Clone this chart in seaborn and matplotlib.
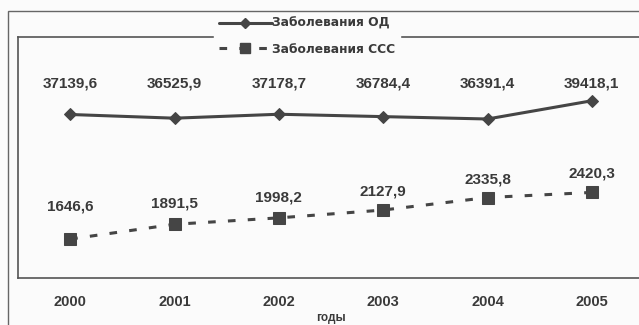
import matplotlib.pyplot as plt
import seaborn as sns
from matplotlib.lines import Line2D
from matplotlib.patches import Rectangle

# values
years = [2000, 2001, 2002, 2003, 2004, 2005]
od = [37139.6, 36525.9, 37178.7, 36784.4, 36391.4, 39418.1]
ccc = [1646.6, 1891.5, 1998.2, 2127.9, 2335.8, 2420.3]
od_label = "Заболевания ОД"
ccc_label = "Заболевания ССС"

sns.set_style("white")
plt.rcParams["font.family"] = ["Liberation Sans", "DejaVu Sans"]

ink = "#454545"
bg = "#fbfbfb"

fig = plt.figure(figsize=(6.39, 3.25), dpi=100, facecolor=bg)
# outer frame of the scanned figure (left and top edges are visible)
fig.patches.append(Rectangle((8 / 639, -0.1), 1.2, 1.1 - 11 / 325,
                             transform=fig.transFigure, fill=False,
                             edgecolor="#666666", lw=1.0))

ax = fig.add_axes([18 / 639, 47 / 325, 626 / 639, 241 / 325])
ax.set_facecolor(bg)
ax2 = ax.twinx()

sns.lineplot(x=years, y=ccc, ax=ax, color=ink, lw=2.2,
             linestyle=(0, (2.5, 4)), marker="s", markersize=8.5,
             markeredgecolor=ink)
sns.lineplot(x=years, y=od, ax=ax2, color=ink, lw=2.2,
             marker="D", markersize=6, markeredgecolor=ink)

ax.set_xlim(1999.5, 2005.5)
ax.set_ylim(1000, 5000)
ax2.set_ylim(10000, 50000)
ax.set_yticks([])
ax2.set_yticks([])
ax.set_xticks(years)
ax.set_xticklabels([str(y) for y in years], fontsize=10.5,
                   fontweight="bold", color="#3a3a3a")
ax.tick_params(axis="x", length=0, pad=12.5)
ax.set_xlabel("годы", fontsize=8.5, fontweight="bold", color="#3a3a3a",
              labelpad=2)
ax.set_ylabel("")
ax2.set_ylabel("")

for s in ["left", "top", "bottom"]:
    ax.spines[s].set_color("#555555")
    ax.spines[s].set_linewidth(1.2)
for s in ax2.spines.values():
    s.set_visible(False)

# data labels
for x, v in zip(years, od):
    ax2.annotate(f"{v:.1f}".replace(".", ","), (x, 0.805),
                 xycoords=("data", "axes fraction"), ha="center",
                 va="center", fontsize=11, fontweight="bold",
                 color="#3a3a3a")
ccc_offsets = [33, 21, 20, 19, 18, 19]
for x, v, off in zip(years, ccc, ccc_offsets):
    ax.annotate(f"{v:.1f}".replace(".", ","), (x, v),
                xytext=(0, off * 0.72), textcoords="offset points",
                ha="center", va="center", fontsize=11,
                fontweight="bold", color="#3a3a3a")

handles = [
    Line2D([], [], color=ink, lw=2.2, marker="D", markersize=5),
    Line2D([], [], color=ink, lw=2.2, linestyle=(0, (2.5, 4)),
           marker="s", markersize=6.5),
]
leg = ax2.legend(handles, [od_label, ccc_label], loc="upper center",
                 bbox_to_anchor=(307 / 639, 1 - 12 / 325),
                 bbox_transform=fig.transFigure, frameon=True,
                 facecolor=bg, edgecolor=bg, framealpha=1,
                 prop={"family": "DejaVu Sans", "weight": "bold",
                       "size": 8.8},
                 handlelength=4.3, handletextpad=0.0, labelspacing=1.05,
                 borderpad=0.4, borderaxespad=0, fancybox=False)
for t in leg.get_texts():
    t.set_color("#3a3a3a")

fig.savefig("out.png", dpi=100, facecolor=bg)
